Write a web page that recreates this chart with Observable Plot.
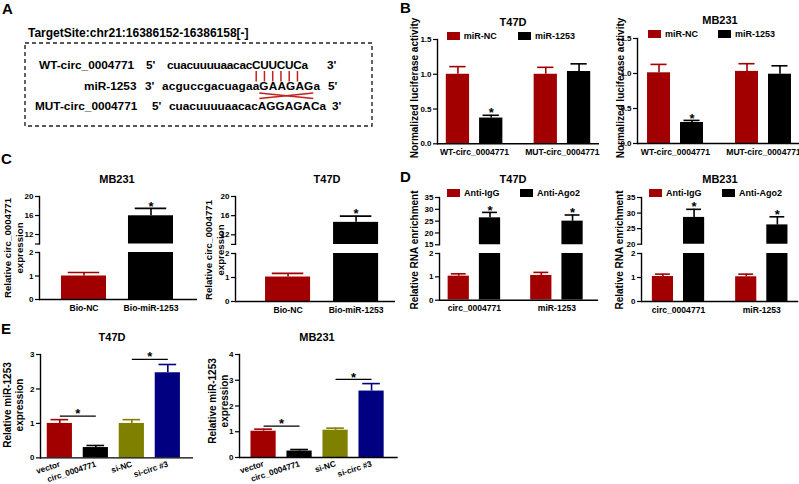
<!DOCTYPE html>
<html><head><meta charset="utf-8">
<script src="https://cdn.jsdelivr.net/npm/d3@7"></script>
<script src="https://cdn.jsdelivr.net/npm/@observablehq/plot@0.6"></script>
<style>
html,body{margin:0;padding:0;background:#fff;}
#root{position:relative;width:799px;height:484px;overflow:hidden;font-family:"Liberation Sans",Arial,sans-serif;color:#000;}
.abs{position:absolute;}
.letter{position:absolute;font-weight:bold;font-size:15px;line-height:16px;}
.title{position:absolute;font-weight:bold;font-size:11px;line-height:1;white-space:nowrap;transform:translate(-50%,-50%);}
.ylab{position:absolute;font-weight:bold;font-size:10px;line-height:12px;white-space:nowrap;text-align:center;transform:translate(-50%,-50%) rotate(-90deg);}
.leg{position:absolute;}
.leg > div{min-height:0!important;height:12px;margin:0!important;font:bold 9px "Liberation Sans",Arial,sans-serif!important;display:flex!important;align-items:center!important;flex-wrap:nowrap!important;}
.leg span{margin-right:0!important;width:var(--w);display:inline-flex!important;align-items:center;white-space:nowrap;}
.leg svg{margin-right:4px!important;}
</style></head>
<body><div id="root"></div>
<script>
// ================= DATA =================
// Panel A
const targetSite = "TargetSite:chr21:16386152-16386158[-]";
const seqNames = ["WT-circ_0004771", "miR-1253", "MUT-circ_0004771"];
const seqLeftEnds = ["5'", "3'", "5'"];
const seqRightEnds = ["3'", "5'", "3'"];
const sequences = ["cuacuuuuaacacCUUCUCa", "acguccgacuagaaGAAGAGa", "cuacuuuuaacacAGGAGACa"];

// Panel B  (luciferase)
const bGroups = ["WT-circ_0004771", "MUT-circ_0004771"];
const bSeries = ["miR-NC", "miR-1253"];
const bT47D_NC = [1.00, 1.00], bT47D_NC_err = [0.11, 0.10];
const bT47D_miR = [0.37, 1.04], bT47D_miR_err = [0.04, 0.11];
const bMB231_NC = [1.01, 1.03], bMB231_NC_err = [0.12, 0.11];
const bMB231_miR = [0.30, 0.99], bMB231_miR_err = [0.03, 0.12];
const bMiRStars = ["*", ""];
const bTicks = [0, 0.5, 1.0, 1.5];
const bTickLabels = ["0.0", "0.5", "1.0", "1.5"];

// Panel C  (pull-down)
const cGroups = ["Bio-NC", "Bio-miR-1253"];
const cMB231 = [1.00, 15.94], cMB231_err = [0.15, 1.56];
const cT47D = [1.02, 14.6], cT47D_err = [0.15, 1.3];
const cStars = ["", "*"];
const cLowTicks = [0, 1, 2];
const cHighTicks = [12, 16, 20];

// Panel D  (RIP)
const dGroups = ["circ_0004771", "miR-1253"];
const dSeries = ["Anti-IgG", "Anti-Ago2"];
const dT47D_IgG = [1.03, 1.06], dT47D_IgG_err = [0.10, 0.13];
const dT47D_Ago2 = [26.4, 25.0], dT47D_Ago2_err = [2.3, 2.6];
const dMB231_IgG = [1.04, 1.03], dMB231_IgG_err = [0.10, 0.11];
const dMB231_Ago2 = [28.6, 26.2], dMB231_Ago2_err = [2.6, 2.6];
const dAgo2Stars = ["*", "*"];
const dLowTicks = [0, 1, 2];
const dT47D_highTicks = [15, 20, 25, 30, 35];
const dMB231_highTicks = [20, 25, 30, 35];

// Panel E  (miR-1253 expression)
const eGroups = ["vector", "circ_0004771", "si-NC", "si-circ #3"];
const eT47D = [1.00, 0.30, 1.00, 2.47], eT47D_err = [0.11, 0.06, 0.11, 0.24];
const eMB231 = [1.02, 0.25, 1.06, 2.58], eMB231_err = [0.08, 0.06, 0.08, 0.29];
const eSigFrom = ["vector", "si-NC"], eSigTo = ["circ_0004771", "si-circ #3"];
const eSigStars = ["*", "*"];
const eT47D_sigY = [1.21, 2.86], eMB231_sigY = [1.22, 3.03];
const eT47D_ticks = [0, 1, 2, 3], eMB231_ticks = [0, 1, 2, 3, 4];

// ================= STYLE =================
const RED = "#a20000", BLACK = "#000000", OLIVE = "#808000", NAVY = "#000080";
const FONT = '"Liberation Sans", Arial, sans-serif';
const root = document.getElementById("root");

function place(el, left, top) {
  const d = document.createElement("div");
  d.className = "abs"; d.style.left = left + "px"; d.style.top = top + "px";
  d.appendChild(el); root.appendChild(d); return d;
}
function addDiv(cls, html, left, top, extra) {
  const d = document.createElement("div");
  d.className = cls; d.innerHTML = html;
  d.style.left = left + "px"; d.style.top = top + "px";
  if (extra) Object.assign(d.style, extra);
  root.appendChild(d); return d;
}
function legend(series, colors, left, cy, itemW) {
  const lg = Plot.legend({color: {type: "ordinal", domain: series, range: colors}, swatchWidth: 13, swatchHeight: 8});
  const d = document.createElement("div");
  d.className = "leg"; d.style.left = left + "px"; d.style.top = (cy - 6) + "px";
  d.style.setProperty("--w", itemW + "px");
  d.appendChild(lg); root.appendChild(d);
}

function chart(o) {
  const mL = 40, mR = 6, mT = 14;
  const mB = o.xAxis ? (o.rotate ? 26 : 22) : 4;
  const W = o.R - o.L, H = o.B - o.T;
  const n = o.groups.length;
  const step = W / (n - o.pi + 2 * o.po);
  const bw = step * (1 - o.pi);
  const ns = o.series.length;
  const gap = o.gap || 0;
  const w = (bw - gap * (ns - 1)) / ns;
  const clip = !!o.clip;
  const inDomain = v => v >= o.domain[0] && v <= o.domain[1];
  const marks = [];
  o.series.forEach((s, si) => {
    const rows = o.groups.map((g, i) => ({
      group: g, value: s.values[i], top: s.values[i] + s.errs[i],
      star: s.stars ? s.stars[i] : "", color: s.colors ? s.colors[i] : s.color
    }));
    const left = si * (w + gap);
    const off = left + w / 2 - bw / 2;
    const cap = w * 0.7;
    marks.push(
      Plot.barY(rows, {x: "group", y: "value", fill: "color", insetLeft: left, insetRight: bw - left - w, clip}),
      Plot.ruleX(rows, {x: "group", y1: "value", y2: "top", stroke: "color", strokeWidth: 1.6, dx: off, clip}),
      Plot.tickY(rows.filter(d => inDomain(d.top)), {x: "group", y: "top", stroke: "color", strokeWidth: 1.6,
        insetLeft: bw / 2 + off - cap / 2, insetRight: bw / 2 - off - cap / 2}),
      Plot.text(rows.filter(d => d.star && inDomain(d.top)), {x: "group", y: "top", text: "star", dx: off, dy: -2,
        fontSize: 13, fontWeight: "bold", fill: "black"})
    );
  });
  if (o.sig) {
    marks.push(
      Plot.link(o.sig, {x1: "from", x2: "to", y1: "y", y2: "y", stroke: "black", strokeWidth: 1.3}),
      Plot.text(o.sig, {x: "from", y: "y", text: "star", dx: step / 2, dy: -2, fontSize: 13, fontWeight: "bold", fill: "black"})
    );
  }
  marks.push(
    Plot.axisY({ticks: o.axisTicks, tickFormat: o.tickFormat, tickSize: 4, tickPadding: 2, label: null, strokeWidth: 1.2}),
    Plot.frame({anchor: "left", stroke: "black", strokeWidth: 1.4})
  );
  if (o.xAxis) {
    marks.push(
      Plot.ruleY([o.domain[0]], {stroke: "black", strokeWidth: 1.4}),
      Plot.axisX({tickSize: 0, tickPadding: o.rotate ? 6 : 5, tickRotate: o.rotate || 0, label: null, fontSize: o.rotate ? 8.2 : 8.6})
    );
  }
  const xOpts = {type: "band", domain: o.groups, paddingInner: o.pi, paddingOuter: o.po, align: o.align ?? 0.5, round: false};
  if (!o.xAxis) xOpts.axis = null;
  const svg = Plot.plot({
    width: mL + W + mR, height: mT + H + mB,
    marginLeft: mL, marginRight: mR, marginTop: mT, marginBottom: mB,
    x: xOpts,
    y: {domain: o.domain},
    color: {type: "identity"},
    style: {background: "transparent", overflow: "visible", maxWidth: "none", fontFamily: FONT, fontSize: "8px", fontWeight: "bold", color: "black"},
    marks
  });
  place(svg, o.L - mL, o.T - mT);
}
const fmtFrom = (ticks, labels) => d => { const i = ticks.indexOf(d); return i < 0 ? "" : labels[i]; };
const fmtList = list => d => list.includes(d) ? String(d) : "";

// ================= PANEL A =================
(function () {
  const svg = d3.create("svg").attr("width", 400).attr("height", 140)
    .style("position", "absolute").style("left", "0px").style("top", "0px")
    .attr("font-family", FONT).attr("font-weight", "bold").attr("fill", "black");
  root.appendChild(svg.node());
  svg.append("text").attr("x", 28).attr("y", 37).attr("font-size", 12).text(targetSite);
  svg.append("rect").attr("x", 25).attr("y", 43).attr("width", 347).attr("height", 83)
    .attr("fill", "none").attr("stroke", "#222").attr("stroke-width", 1.4).attr("stroke-dasharray", "4,3");
  const baseY = [69, 89.5, 110];
  const labelX = [39, 84, 35], leftX = [146, 145, 152], seqX = [167, 162, 169], rightX = [327, 328, 332];
  const seqLen = [141, 158, 157];
  const seqNodes = [];
  sequences.forEach((s, r) => {
    const g = svg.append("g").attr("font-size", 11.8);
    g.append("text").attr("x", labelX[r]).attr("y", baseY[r]).text(seqNames[r]);
    g.append("text").attr("x", leftX[r]).attr("y", baseY[r]).text(seqLeftEnds[r]);
    seqNodes.push(g.append("text").attr("x", seqX[r]).attr("y", baseY[r])
      .attr("textLength", seqLen[r]).attr("lengthAdjust", "spacing").text(s).node());
    g.append("text").attr("x", rightX[r]).attr("y", baseY[r]).text(seqRightEnds[r]);
  });
  const up = s => s.search(/[A-Z]/);
  const wtStart = up(sequences[0]), mirStart = up(sequences[1]);
  const nPair = sequences[0].slice(wtStart).replace(/[a-z]/g, "").length;
  for (let i = 0; i < nPair; i++) {
    const e = seqNodes[0].getExtentOfChar(wtStart + i);
    const cx = e.x + e.width / 2;
    svg.append("line").attr("x1", cx).attr("x2", cx).attr("y1", 71).attr("y2", 81.5)
      .attr("stroke", "#c42020").attr("stroke-width", 1.5);
  }
  const e0 = seqNodes[1].getExtentOfChar(mirStart);
  const e1 = seqNodes[1].getExtentOfChar(mirStart + nPair - 1);
  const x0 = e0.x, x1 = e1.x + e1.width;
  svg.append("line").attr("x1", x0).attr("x2", x1).attr("y1", 93).attr("y2", 98.5).attr("stroke", "#c42020").attr("stroke-width", 1.5);
  svg.append("line").attr("x1", x0).attr("x2", x1).attr("y1", 98.5).attr("y2", 93).attr("stroke", "#c42020").attr("stroke-width", 1.5);
})();

// ================= PANEL B =================
const bFmt = fmtFrom(bTicks, bTickLabels);
chart({L: 437, R: 599, T: 39, B: 143.3, domain: [0, 1.5], axisTicks: bTicks, tickFormat: bFmt,
  groups: bGroups, pi: 0.356, po: 0.1, gap: 10, xAxis: true,
  series: [{values: bT47D_NC, errs: bT47D_NC_err, color: RED},
           {values: bT47D_miR, errs: bT47D_miR_err, stars: bMiRStars, color: BLACK}]});
chart({L: 637, R: 801, T: 38.3, B: 143.3, domain: [0, 1.5], axisTicks: bTicks, tickFormat: bFmt,
  groups: bGroups, pi: 0.364, po: 0.114, gap: 10, xAxis: true,
  series: [{values: bMB231_NC, errs: bMB231_NC_err, color: RED},
           {values: bMB231_miR, errs: bMB231_miR_err, stars: bMiRStars, color: BLACK}]});
legend(bSeries, [RED, BLACK], 446.7, 35.7, 71.3);
legend(bSeries, [RED, BLACK], 648, 34.3, 70);

// ================= PANEL C =================
function cPanel(vals, errs, L, R, topT, topB, lowT, lowB, pi, po, align) {
  const base = {groups: cGroups, pi, po, align, clip: true, L, R,
    series: [{values: vals, errs, stars: cStars, colors: [RED, BLACK]}]};
  chart({...base, T: topT, B: topB, domain: [10, 20], axisTicks: [10, ...cHighTicks], tickFormat: fmtList(cHighTicks), xAxis: false});
  chart({...base, T: lowT, B: lowB, domain: [0, 2], axisTicks: cLowTicks, tickFormat: fmtList(cLowTicks), xAxis: true});
}
cPanel(cMB231, cMB231_err, 39, 197, 196, 243.5, 251.7, 298.7, 0.328, 0.343, 0.478);
cPanel(cT47D, cT47D_err, 235, 395, 196, 243.9, 252.7, 300.7, 0.338, 0.345, 0.64);

// ================= PANEL D =================
function dPanel(ig, igE, ago, agoE, hiTicks, L, R, topT, topB, lowT, lowB, pi, po, align) {
  const base = {groups: dGroups, pi, po, align, gap: 10, clip: true, L, R,
    series: [{values: ig, errs: igE, color: RED}, {values: ago, errs: agoE, stars: dAgo2Stars, color: BLACK}]};
  chart({...base, T: topT, B: topB, domain: [hiTicks[0], hiTicks[hiTicks.length - 1]], axisTicks: hiTicks, tickFormat: fmtList(hiTicks), xAxis: false});
  chart({...base, T: lowT, B: lowB, domain: [0, 2], axisTicks: dLowTicks, tickFormat: fmtList(dLowTicks), xAxis: true});
}
dPanel(dT47D_IgG, dT47D_IgG_err, dT47D_Ago2, dT47D_Ago2_err, dT47D_highTicks, 439, 598, 196.7, 244, 253.3, 300, 0.364, 0.145, 0.36);
dPanel(dMB231_IgG, dMB231_IgG_err, dMB231_Ago2, dMB231_Ago2_err, dMB231_highTicks, 640.7, 798, 197.3, 244, 252.7, 300.7, 0.372, 0.13, 0.5);
legend(dSeries, [RED, BLACK], 447, 193, 73);
legend(dSeries, [RED, BLACK], 649, 193, 73);

// ================= PANEL E =================
const eColors = [RED, BLACK, OLIVE, NAVY];
const sigRows = ys => eSigFrom.map((f, i) => ({from: f, to: eSigTo[i], y: ys[i], star: eSigStars[i]}));
chart({L: 40, R: 193, T: 354.3, B: 457.7, domain: [0, 3], axisTicks: eT47D_ticks, tickFormat: fmtList(eT47D_ticks),
  groups: eGroups, pi: 0.3, po: 0.275, align: 0.34, xAxis: true, rotate: -18, sig: sigRows(eT47D_sigY),
  series: [{values: eT47D, errs: eT47D_err, colors: eColors}]});
chart({L: 239.3, R: 398, T: 354.3, B: 457.3, domain: [0, 4], axisTicks: eMB231_ticks, tickFormat: fmtList(eMB231_ticks),
  groups: eGroups, pi: 0.3, po: 0.354, align: 0.45, xAxis: true, rotate: -18, sig: sigRows(eMB231_sigY),
  series: [{values: eMB231, errs: eMB231_err, colors: eColors}]});

// ================= TEXT: letters, titles, axis labels =================
addDiv("letter", "A", 2, 0.5);
addDiv("letter", "B", 400, -0.5);
addDiv("letter", "C", 1, 150.5);
addDiv("letter", "D", 400, 168.5);
addDiv("letter", "E", 1, 320.5);

addDiv("title", "T47D", 513, 21.7);
addDiv("title", "MB231", 720, 20);
addDiv("title", "MB231", 117, 179);
addDiv("title", "T47D", 327, 179);
addDiv("title", "T47D", 513, 179);
addDiv("title", "MB231", 720, 179);
addDiv("title", "T47D", 112, 337);
addDiv("title", "MB231", 317, 337);

addDiv("ylab", "Normalized luciferase activity", 415, 88);
addDiv("ylab", "Normalized luciferase activity", 621, 88);
addDiv("ylab", "Relative circ_0004771<br>expression", 14, 248, {fontSize: "9.7px"});
addDiv("ylab", "Relative circ_0004771<br>expression", 215, 250, {fontSize: "9.7px"});
addDiv("ylab", "Relative RNA enrichment", 415, 250);
addDiv("ylab", "Relative RNA enrichment", 620, 250);
addDiv("ylab", "Relative miR-1253<br>expression", 14, 405);
addDiv("ylab", "Relative miR-1253<br>expression", 219, 401);
</script>
</body></html>
